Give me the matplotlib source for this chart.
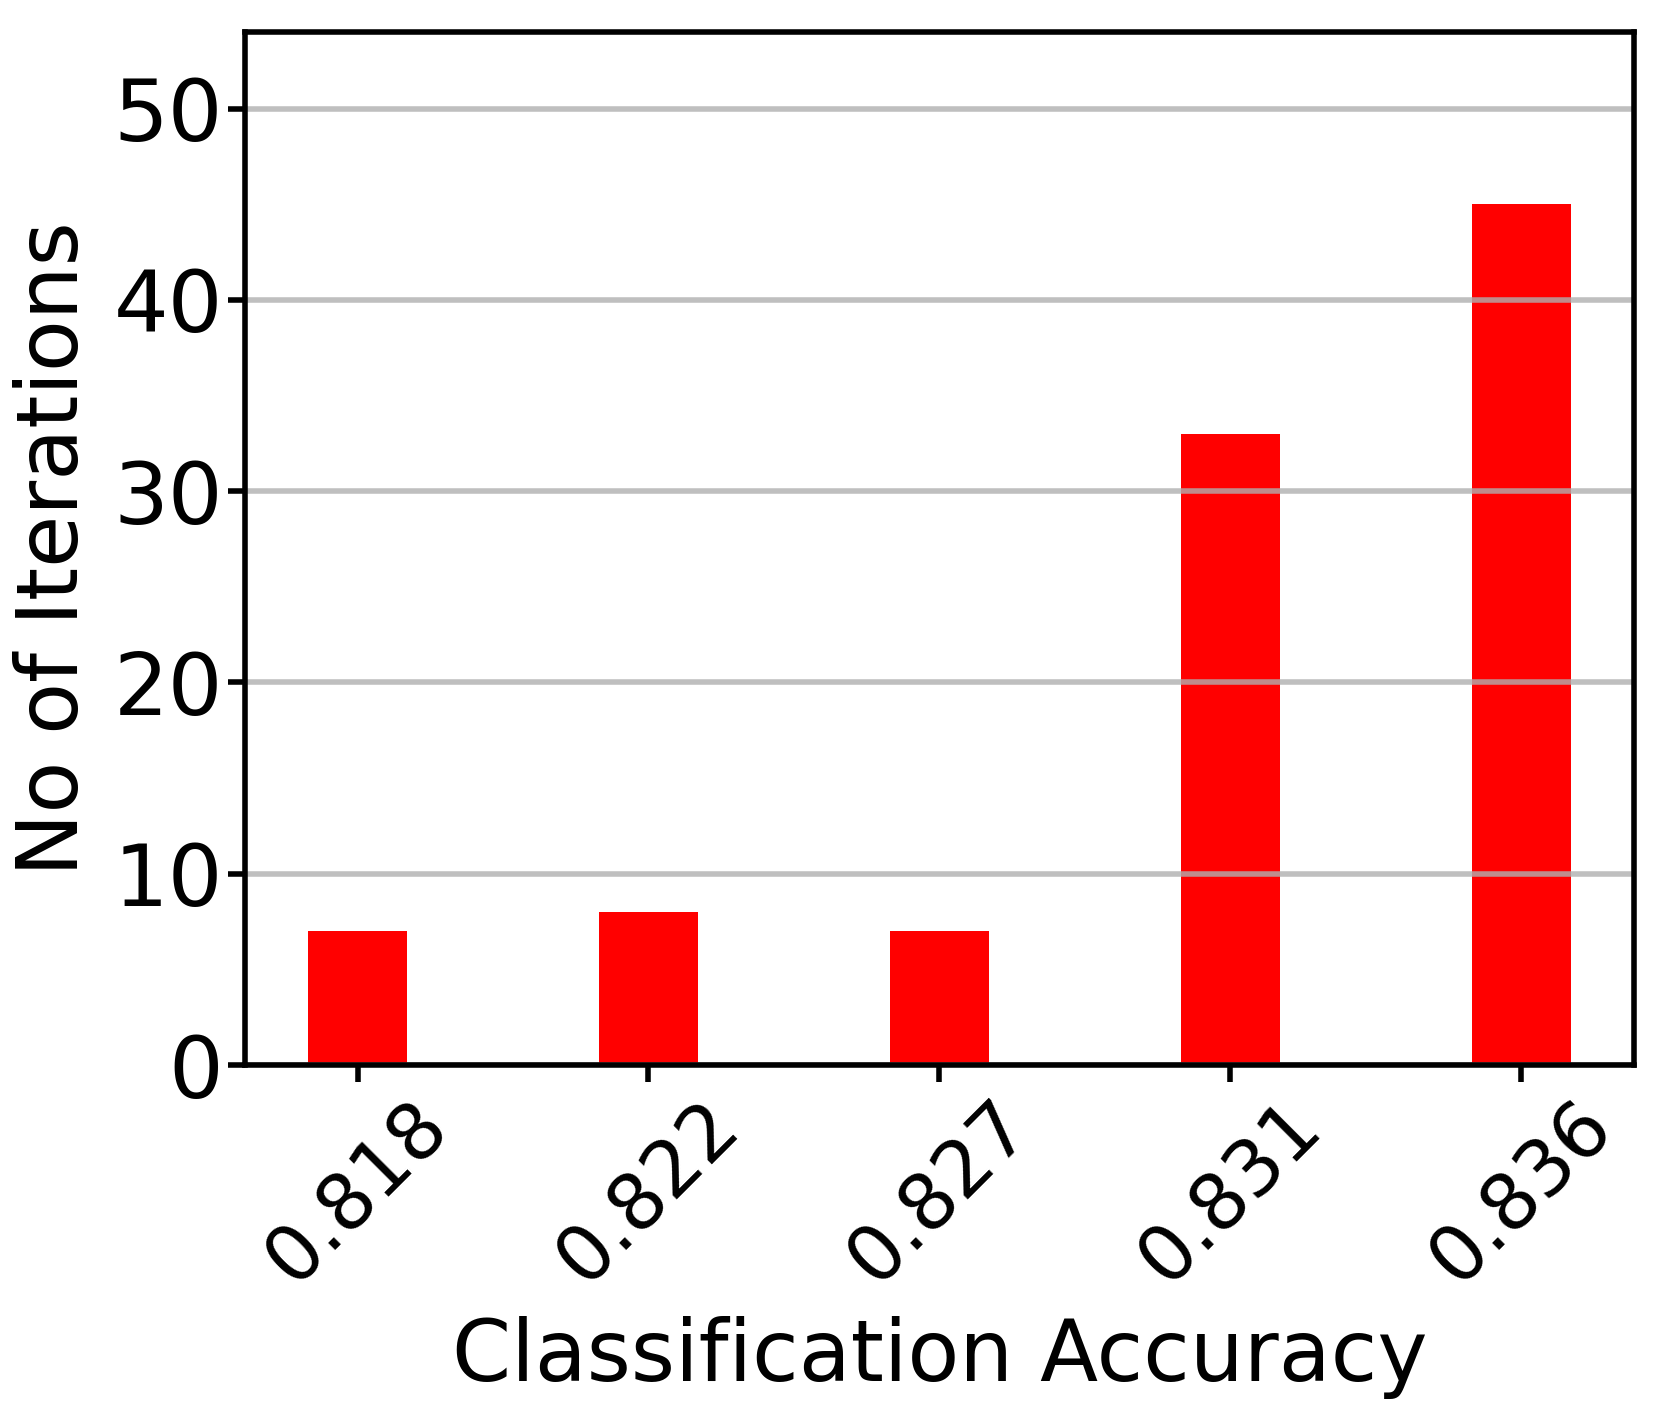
import matplotlib
matplotlib.use("Agg")
import matplotlib.pyplot as plt
import numpy as np

categories = ["0.818", "0.822", "0.827", "0.831", "0.836"]
counts = [7, 8, 7, 33, 45]

fig = plt.figure(figsize=(16.66, 14.22), dpi=100)
ax = fig.add_axes([0.147, 0.251, 0.8338, 0.7265])
x = np.arange(len(categories))
ax.bar(x, counts, width=0.34, color="red", zorder=1)
ax.set_ylim(0, 54)
ax.set_yticks([0, 10, 20, 30, 40, 50])
ax.set_xticks(x)
ax.set_xticklabels(categories, rotation=45)
ax.yaxis.grid(True, color="#b0b0b0", alpha=0.8, linewidth=4, zorder=3)
ax.set_axisbelow(False)
ax.tick_params(axis="y", labelsize=62, length=12, width=4)
ax.tick_params(axis="x", labelsize=56, length=12, width=4)
for s in ax.spines.values():
    s.set_linewidth(4)
    s.set_zorder(5)
ax.set_xlabel("Classification Accuracy", fontsize=61, labelpad=13)
ax.set_ylabel("No of Iterations", fontsize=61, labelpad=13)
fig.savefig("out.png", dpi=100)
